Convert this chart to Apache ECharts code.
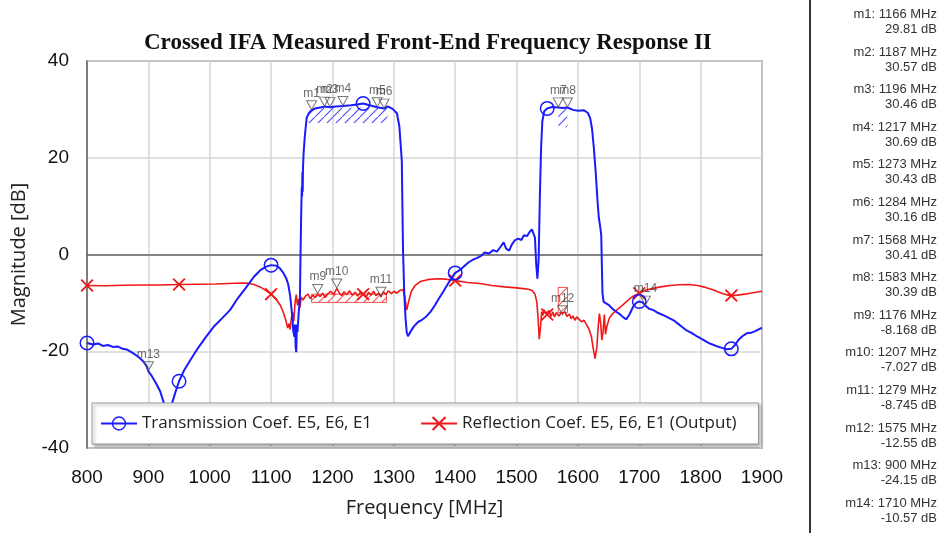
<!DOCTYPE html>
<html>
<head>
<meta charset="utf-8">
<script src="https://cdn.jsdelivr.net/npm/echarts@6/dist/echarts.min.js"></script>
<style>
html,body{margin:0;padding:0;background:#fff;}
#chart{width:946px;height:533px;}
</style>
</head>
<body>
<div id="chart"></div>
<script>
// ---------- DATA ----------
const transFreq = [800,810,818,826,834,842,850,858,866,875,884,891,897,900,905,912,919,926,932,938,944,950,958,968,980,993,1006,1020,1033,1046,1060,1072,1082,1092,1100,1108,1114,1120,1125,1128,1131,1133,1135,1136,1138,1139,1140,1141,1142,1143,1145,1147,1148,1149,1150,1150.5,1151,1151.5,1152,1153,1155,1158,1162,1166,1172,1180,1187,1196,1205,1217,1230,1240,1250,1262,1273,1284,1290,1298,1305,1309,1311,1313,1314,1315,1317,1319,1321,1323,1327,1333,1340,1346,1353,1360,1367,1373,1380,1386,1392,1400,1408,1415,1422,1430,1436,1442,1448,1455,1462,1468,1474,1479,1483,1488,1492,1497,1503,1508,1512,1517,1521,1525,1528,1530,1532,1534,1536,1538,1540,1542,1545,1550,1558,1568,1575,1583,1592,1600,1610,1616,1620,1623,1626,1629,1632,1634,1636,1638,1639,1640,1642,1646,1650,1656,1662,1668,1674,1679,1684,1690,1695,1700,1705,1710,1716,1723,1731,1740,1748,1756,1764,1771,1777,1785,1795,1805,1815,1825,1835,1842,1850,1856,1862,1868,1875,1882,1890,1897,1900];
const transVal = [-18.3,-18.6,-18.4,-18.9,-18.7,-19.1,-19.0,-19.5,-19.7,-20.4,-21.2,-22.0,-23.0,-24.15,-25.0,-26.5,-28.2,-31,-33,-31,-28.5,-26.2,-24,-21.9,-19.5,-17.2,-15,-13.2,-11.5,-9,-6.7,-4.6,-3.3,-2.5,-2.2,-2.3,-2.8,-3.8,-5,-6.2,-8.5,-10.9,-13.5,-15.7,-17,-14.5,-19,-20.2,-14.5,-16,-12,-9,0,8,14,12,17,13,18,21,24.5,28.3,29.3,29.81,30.2,30.4,30.57,30.46,30.6,30.69,30.85,31.0,31.2,30.8,30.43,30.16,30.6,30.1,29.2,26.5,23,19.4,10,1,-8,-13,-16,-16.9,-16,-14.8,-13.9,-13.5,-12.8,-11.8,-10.5,-9.2,-7.8,-6.5,-5.3,-3.8,-3.2,-2.4,-1.6,-1.0,-0.7,-0.3,0.4,0.2,0.9,0.6,1.6,2.5,1.2,0.8,2.0,2.9,3.3,3.0,4.0,3.8,4.6,5.2,4.8,3.5,-2,-5,-1,12,22,27.5,29.6,30.2,30.5,30.41,30.3,30.39,29.9,29.7,29.8,29.3,28.2,26,22,17,11,7.7,6,4,-2,-8,-9.8,-10.1,-10.4,-11.2,-11.8,-12.3,-13,-13.4,-12.4,-10.8,-10,-9.7,-9.9,-10.57,-11.2,-11.5,-12.1,-12.6,-13.1,-13.6,-14.4,-15.1,-15.7,-16.2,-17,-17.7,-18.4,-18.9,-19.3,-19.6,-19.5,-18.7,-17.6,-16.9,-16.3,-16.2,-15.8,-15.3,-15.2];

const reflFreq = [800,830,860,890,920,950,980,1010,1040,1060,1072,1082,1090,1100,1108,1115,1120,1124,1127,1129,1131,1133,1135,1137,1139,1141,1143,1145,1147,1149,1152,1156,1160,1164,1168,1172,1176,1180,1184,1188,1192,1197,1202,1207,1211,1215,1219,1223,1228,1232,1237,1241,1245,1250,1255,1259,1263,1267,1271,1275,1279,1283,1287,1291,1296,1300,1305,1310,1315,1318,1321,1324,1328,1334,1343,1355,1370,1385,1400,1420,1440,1460,1480,1500,1515,1525,1530,1533,1535,1537,1539,1541,1543,1545,1547,1550,1553,1556,1559,1562,1565,1569,1572,1575,1579,1582,1586,1589,1592,1595,1598,1602,1606,1610,1614,1618,1622,1625,1628,1631,1633,1635,1637,1639,1641,1643,1645,1647,1651,1656,1662,1669,1676,1683,1690,1700,1710,1722,1735,1750,1765,1780,1795,1808,1820,1832,1842,1850,1860,1872,1885,1900];
const reflVal = [-6.4,-6.45,-6.35,-6.3,-6.3,-6.2,-6.15,-6.1,-5.95,-5.9,-6.2,-6.7,-7.3,-8.2,-9.2,-10.5,-12,-13.6,-15.2,-14.3,-15.5,-13.2,-12,-13.8,-10,-8.3,-10.5,-9.2,-11,-8.8,-9.4,-8.6,-8.2,-9.1,-8.4,-8.9,-8.17,-8.7,-8.0,-8.9,-8.2,-7.6,-8.3,-7.03,-7.9,-8.5,-7.7,-8.3,-7.5,-8.4,-7.8,-8.6,-7.9,-8.2,-8.8,-7.8,-8.4,-7.6,-8.5,-8.0,-8.75,-7.7,-8.3,-7.5,-8.1,-7.6,-8.0,-7.4,-7.3,-8.8,-11.5,-9.8,-7.8,-6.5,-5.6,-5.2,-5.0,-5.1,-5.4,-5.8,-6.0,-6.4,-6.7,-6.9,-7.1,-7.4,-8.2,-9.8,-13,-17.5,-15,-11.8,-12.6,-11.4,-12.2,-12.4,-11.6,-12.8,-11.9,-12.9,-12.0,-12.7,-12.2,-12.55,-11.9,-12.8,-12.3,-13.3,-12.7,-13.6,-12.9,-13.4,-13.9,-13.6,-14.5,-15.4,-17,-19.5,-21.5,-19,-15,-12.2,-14,-17.7,-16,-12.4,-16.5,-15,-13.2,-12.3,-11.6,-10.9,-10.1,-9.3,-8.6,-8.0,-7.4,-7.0,-6.7,-6.4,-6.25,-6.2,-6.4,-6.8,-7.3,-7.9,-8.3,-8.5,-8.4,-8.2,-7.9,-7.6];

// symbols drawn every 150 MHz
const symbolFreqs = [800,950,1100,1250,1400,1550,1700,1850];

// markers
const markerNames = ['m1','m2','m3','m4','m5','m6','m7','m8','m9','m10','m11','m12','m13','m14'];
const markerFreq  = [1166,1187,1196,1217,1273,1284,1568,1583,1176,1207,1279,1575,900,1710];
const markerVal   = [29.81,30.57,30.46,30.69,30.43,30.16,30.41,30.39,-8.168,-7.027,-8.745,-12.55,-24.15,-10.57];

// hatched marker bands [fStart, fEnd, vTop, vBottom]
const bandsTrans = [[1160,1290,30.4,27.2],[1568,1583,30.2,26.3]];
const bandsRefl  = [[1166,1288,-8.2,-9.9],[1568,1583,-6.8,-12]];

const xTicks = {min:800, max:1900, step:100};
const yTicks = {min:-40, max:40, step:20};

const seriesNames = ['Transmission Coef. E5, E6, E1','Reflection Coef. E5, E6, E1 (Output)'];
const titleText = 'Crossed IFA Measured Front-End Frequency Response II';

// ---------- BUILD ----------
function hatch(color){
  const c = document.createElement('canvas');
  c.width = 9; c.height = 9;
  const g = c.getContext('2d');
  g.strokeStyle = color; g.lineWidth = 1.1;
  g.beginPath(); g.moveTo(-1,10); g.lineTo(10,-1); g.stroke();
  return {image:c, repeat:'repeat'};
}
const BLUE = '#1a1aff', RED = '#f01818';
const XSYM = 'path://M0,1L1,0L5,4L9,0L10,1L6,5L10,9L9,10L5,6L1,10L0,9L4,5Z';
const OSYM = 'path://M50,0A50,50,0,1,1,49.99,0ZM50,10A40,40,0,1,0,50.01,10Z';

function buildData(fs, vs){
  return fs.map((f,i)=> symbolFreqs.includes(f) ? {value:[f,vs[i]]} : {value:[f,vs[i]], symbol:'none'});
}
function areas(bands){
  return bands.map(b=>[{coord:[b[0],b[2]]},{coord:[b[1],b[3]]}]);
}

const chart = echarts.init(document.getElementById('chart'), null, {renderer:'canvas'});

const FONT_R = '13px "Liberation Sans", Arial, sans-serif';
const graphics = [{type:'line', shape:{x1:810,y1:0,x2:810,y2:533}, style:{stroke:'#333', lineWidth:2}}];
markerNames.forEach((n,i)=>{
  const y0 = 8 + i*37.6;
  graphics.push({type:'text', right:9, top:y0, style:{text:n+': '+markerFreq[i]+' MHz', font:FONT_R, fill:'#333', textAlign:'right'}});
  graphics.push({type:'text', right:9, top:y0+15, style:{text:markerVal[i].toPrecision(4)+' dB', font:FONT_R, fill:'#333', textAlign:'right'}});
});

const option = {
  animation:false,
  backgroundColor:'#fff',
  title:{text:titleText, left:139, top:27, textStyle:{fontFamily:'"Liberation Serif", "Times New Roman", serif', fontWeight:'bold', fontSize:23, color:'#111'}},
  grid:{left:87, right:184, top:61, bottom:85, show:true, borderColor:'#666', borderWidth:1.5, containLabel:false},
  legend:{
    data:seriesNames, left:92, top:403, orient:'horizontal',
    padding:[12,22,12,8], itemGap:48, itemWidth:36, itemHeight:18,
    backgroundColor:'#fff', borderColor:'#999', borderWidth:1,
    shadowColor:'rgba(0,0,0,0.35)', shadowBlur:3, shadowOffsetX:2, shadowOffsetY:2,
    textStyle:{fontFamily:'"Open Sans", sans-serif', fontSize:17, color:'#222'}
  },
  xAxis:{type:'value', min:xTicks.min, max:xTicks.max, interval:xTicks.step,
    name:'Frequency [MHz]', nameLocation:'middle', nameGap:50,
    nameTextStyle:{fontFamily:'"Open Sans", sans-serif', fontSize:20, color:'#222'},
    axisLine:{show:true, lineStyle:{color:'#666', width:1.5}}, axisTick:{show:false},
    axisLabel:{fontFamily:'"Liberation Sans", Arial, sans-serif', fontSize:19, color:'#111', margin:20, formatter:v=>String(v)},
    splitLine:{show:true, lineStyle:{color:'#d6d6d6', width:1.5}}},
  yAxis:{type:'value', min:yTicks.min, max:yTicks.max, interval:yTicks.step,
    name:'Magnitude [dB]', nameLocation:'middle', nameGap:58, nameRotate:90,
    nameTextStyle:{fontFamily:'"Open Sans", sans-serif', fontSize:20, color:'#222'},
    axisLine:{show:true, lineStyle:{color:'#666', width:1.5}}, axisTick:{show:false},
    axisLabel:{fontFamily:'"Liberation Sans", Arial, sans-serif', fontSize:19, color:'#111', margin:18},
    splitLine:{show:true, lineStyle:{color:'#d6d6d6', width:1.5}}},
  series:[
    {name:seriesNames[0], type:'line', data:buildData(transFreq,transVal), symbol:OSYM, symbolSize:15,
     showSymbol:true, showAllSymbol:true, color:BLUE,
     lineStyle:{color:BLUE, width:2}, itemStyle:{color:BLUE},
     markArea:{silent:true, itemStyle:{color:hatch('rgba(40,40,255,0.85)')}, data:areas(bandsTrans)}, z:3},
    {name:seriesNames[1], type:'line', data:buildData(reflFreq,reflVal), symbol:XSYM, symbolSize:13,
     showSymbol:true, showAllSymbol:true, color:RED,
     lineStyle:{color:RED, width:1.6}, itemStyle:{color:RED},
     markArea:{silent:true, itemStyle:{color:hatch('rgba(240,40,40,0.8)'), borderColor:'rgba(240,40,40,0.8)', borderWidth:1}, data:areas(bandsRefl)}, z:2},
    {name:'markers', type:'scatter', symbol:'path://M0,0L10,0L5,9Z', symbolSize:[10,9], symbolOffset:[0,-5],
     itemStyle:{color:'rgba(255,255,255,0)', borderColor:'#555', borderWidth:1},
     label:{show:true, position:'top', distance:1, formatter:'{b}', fontFamily:'"Liberation Sans", Arial, sans-serif', fontSize:12, color:'#444'},
     data:markerNames.map((n,i)=>({name:n, value:[markerFreq[i], markerVal[i]]})), z:4}
  ],
  graphic:graphics
};
chart.setOption(option);
</script>
</body>
</html>
